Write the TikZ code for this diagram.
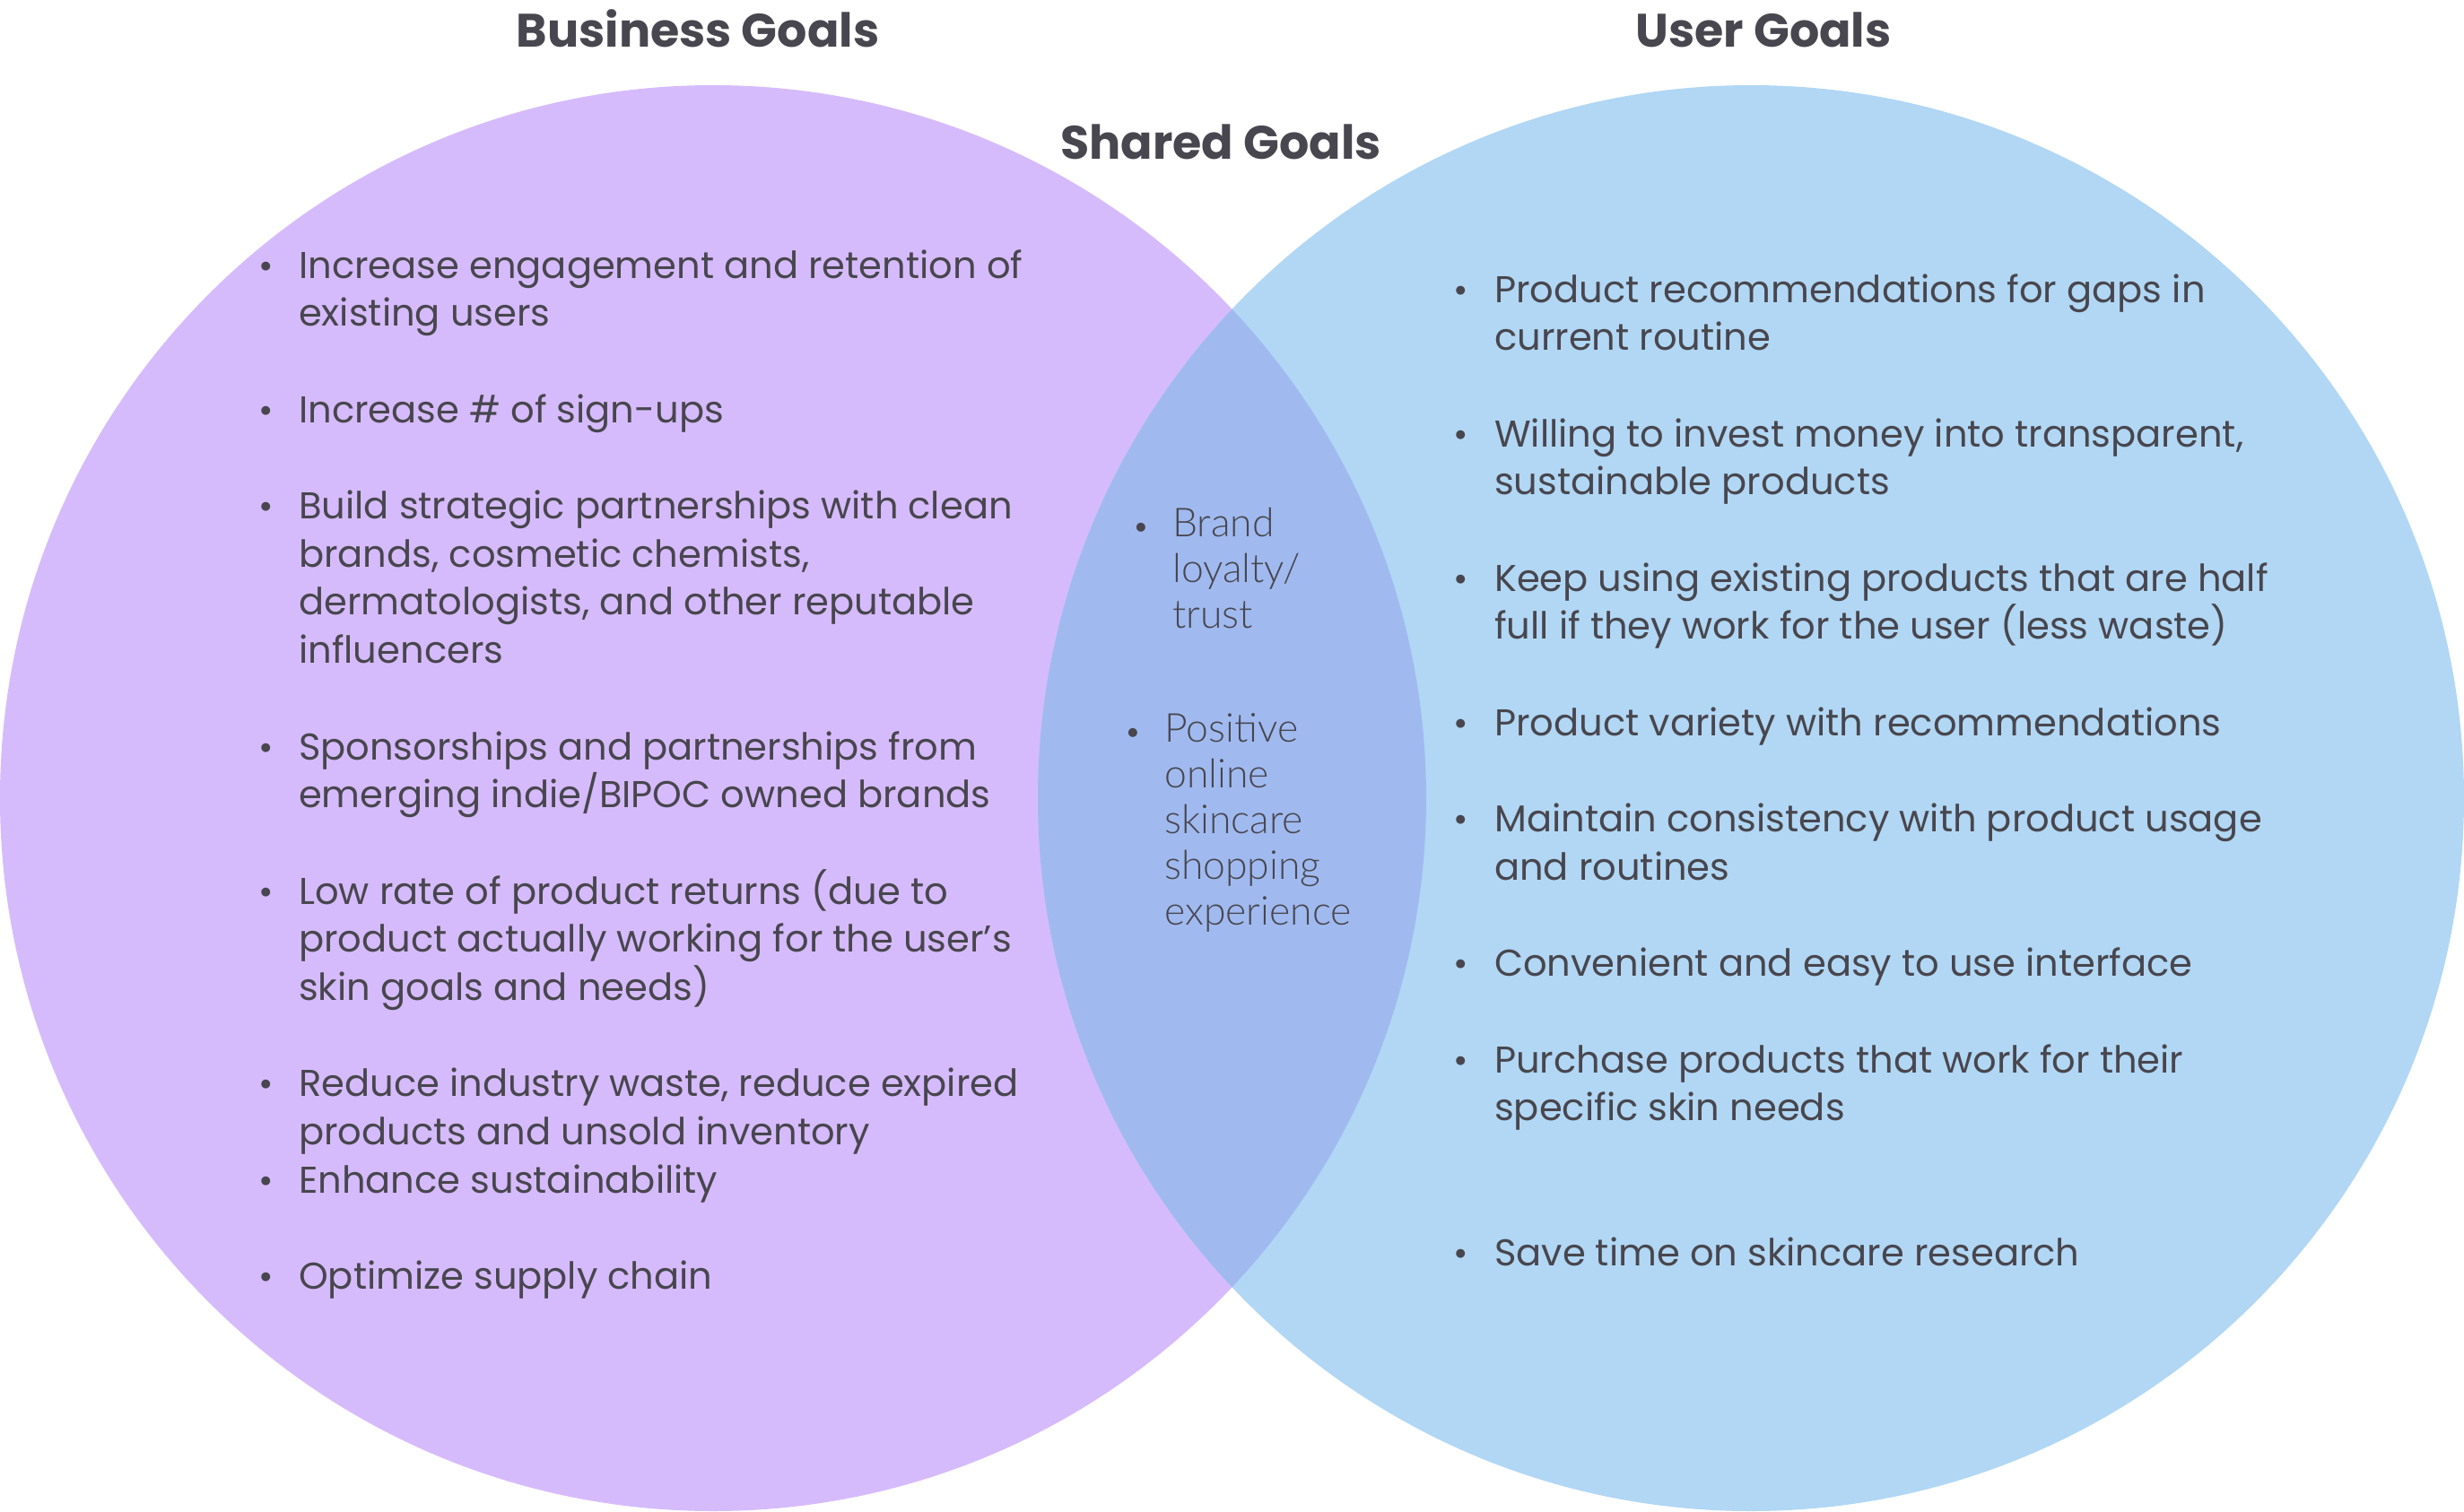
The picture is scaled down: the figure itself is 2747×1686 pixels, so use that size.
\documentclass[tikz,border=0pt]{standalone}
\usepackage{fontspec}
\setmainfont{Poppins}
\newfontfamily\lightfont{Lato Light}
\definecolor{lav}{RGB}{214,187,252}
\definecolor{sky}{RGB}{177,215,244}
\definecolor{ovl}{RGB}{160,186,240}
\definecolor{ink}{RGB}{72,70,78}
\newcommand\LPITCH{53.7}
\newcommand\ltline[3]{\node[txt] (#1) at (333,{310+\LPITCH*#2}) {#3};}
\newcommand\ltbul[2]{\node[bul] (#1) at (297,{310+\LPITCH*#2}) {•};}
\newcommand\rtline[3]{\node[txt] (#1) at (1666,{337+\LPITCH*#2}) {#3};}
\newcommand\rtbul[2]{\node[bul] (#1) at (1629,{337+\LPITCH*#2}) {•};}
\begin{document}
\begin{tikzpicture}[x=1pt,y=-1pt,
  txt/.style={anchor=base west, inner sep=0pt, text=ink, font=\fontsize{41.6}{50}\selectfont},
  bul/.style={anchor=base, inner sep=0pt, text=ink, font=\fontsize{40}{48}\selectfont},
  mid/.style={anchor=base west, inner sep=0pt, text=ink, font=\lightfont\fontsize{44.5}{52}\selectfont},
  midbul/.style={anchor=base, inner sep=0pt, text=ink, font=\lightfont\fontsize{34}{40}\selectfont},
  title/.style={anchor=base, inner sep=0pt, text=ink, font=\bfseries\fontsize{52.3}{60}\selectfont}]
\useasboundingbox (0,0) rectangle (2747,1686);
\fill[lav] (795,890) circle (795pt);
\fill[sky] (1952,890) circle (795pt);
\begin{scope}
  \clip (795,890) circle (795pt);
  \fill[ovl] (1952,890) circle (795pt);
\end{scope}
% titles
\node[title] (tb) at (778,53) {Business Goals};
\node[title] (tu) at (1966,53) {User Goals};
\node[title] (ts) at (1361,177) {Shared Goals};
% left column
\ltbul{lb1}{0}
\ltline{l1}{0}{Increase engagement and retention of}
\ltline{l2}{1}{existing users}
\ltbul{lb2}{3}
\ltline{l3}{3}{Increase \# of sign-ups}
\ltbul{lb3}{5}
\ltline{l4}{5}{Build strategic partnerships with clean}
\ltline{l5}{6}{brands, cosmetic chemists,}
\ltline{l6}{7}{dermatologists, and other reputable}
\ltline{l7}{8}{influencers}
\ltbul{lb4}{10}
\ltline{l8}{10}{Sponsorships and partnerships from}
\ltline{l9}{11}{emerging indie/BIPOC owned brands}
\ltbul{lb5}{13}
\ltline{l10}{13}{Low rate of product returns (due to}
\ltline{l11}{14}{product actually working for the user’s}
\ltline{l12}{15}{skin goals and needs)}
\ltbul{lb6}{17}
\ltline{l13}{17}{Reduce industry waste, reduce expired}
\ltline{l14}{18}{products and unsold inventory}
\ltbul{lb7}{19}
\ltline{l15}{19}{Enhance sustainability}
\ltbul{lb8}{21}
\ltline{l16}{21}{Optimize supply chain}
% right column
\rtbul{rb1}{0}
\rtline{r1}{0}{Product recommendations for gaps in}
\rtline{r2}{1}{current routine}
\rtbul{rb2}{3}
\rtline{r3}{3}{Willing to invest money into transparent,}
\rtline{r4}{4}{sustainable products}
\rtbul{rb3}{6}
\rtline{r5}{6}{Keep using existing products that are half}
\rtline{r6}{7}{full if they work for the user (less waste)}
\rtbul{rb4}{9}
\rtline{r7}{9}{Product variety with recommendations}
\rtbul{rb5}{11}
\rtline{r8}{11}{Maintain consistency with product usage}
\rtline{r9}{12}{and routines}
\rtbul{rb6}{14}
\rtline{r10}{14}{Convenient and easy to use interface}
\rtbul{rb7}{16}
\rtline{r11}{16}{Purchase products that work for their}
\rtline{r12}{17}{specific skin needs}
\rtbul{rb8}{20}
\rtline{r13}{20}{Save time on skincare research}
% middle
\node[midbul] (mb1) at (1272,598) {•};
\node[mid] (m1) at (1307,598) {Brand};
\node[mid] (m2) at (1307,649) {loyalty/};
\node[mid] (m3) at (1307,700) {trust};
\node[midbul] (mb2) at (1263,827) {•};
\node[mid] (m4) at (1298,827) {Positive};
\node[mid] (m5) at (1298,878) {online};
\node[mid] (m6) at (1298,929) {skincare};
\node[mid] (m7) at (1298,980) {shopping};
\node[mid] (m8) at (1298,1031) {experience};
\end{tikzpicture}
\end{document}
